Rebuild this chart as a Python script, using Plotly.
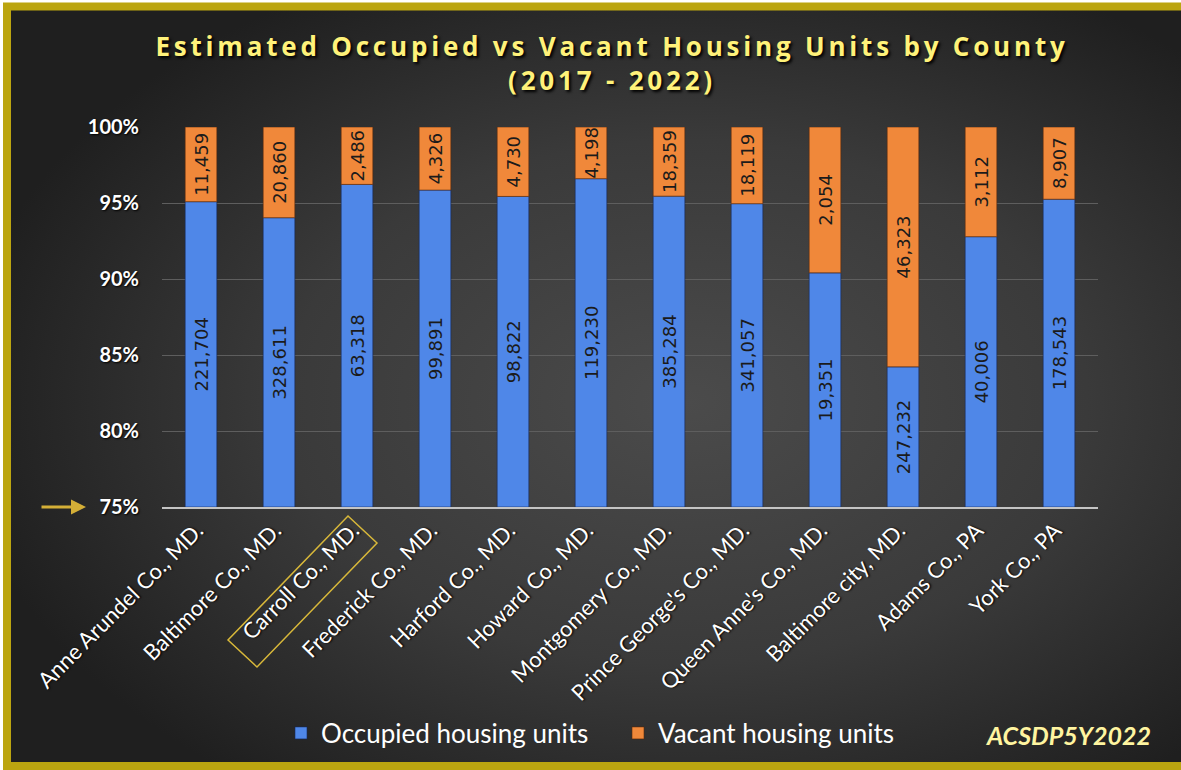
import base64
import plotly.graph_objects as go

# ---------------- data ----------------
counties = [
    "Anne Arundel Co., MD.", "Baltimore Co., MD.", "Carroll Co., MD.",
    "Frederick Co., MD.", "Harford Co., MD.", "Howard Co., MD.",
    "Montgomery Co., MD.", "Prince George's Co., MD.", "Queen Anne's Co., MD.",
    "Baltimore city, MD.", "Adams Co., PA", "York Co., PA",
]
occupied = [221704, 328611, 63318, 99891, 98822, 119230,
            385284, 341057, 19351, 247232, 40006, 178543]
vacant = [11459, 20860, 2486, 4326, 4730, 4198,
          18359, 18119, 2054, 46323, 3112, 8907]
y_ticks = [75, 80, 85, 90, 95, 100]
highlight = "Carroll Co., MD."
source_note = "ACSDP5Y2022"

# shares (percent of all housing units) derived from the counts
occ_pct = [100 * o / (o + v) for o, v in zip(occupied, vacant)]
vac_pct = [100 - p for p in occ_pct]
y_min = y_ticks[0]

# ---------------- geometry ----------------
W, H = 1181, 770
ML, MR, MT, MB = 162, 83, 127, 263
PW, PH = W - ML - MR, H - MT - MB


def px_x(px):
    return (px - ML) / PW


def px_y(py):
    return (H - MB - py) / PH


GOLD = "#BBA510"
TITLE_YELLOW = "#FFF27A"

# background radial gradient (svg data uri)
svg = (
    "<svg xmlns='http://www.w3.org/2000/svg' width='1181' height='770' "
    "viewBox='0 0 1181 770' preserveAspectRatio='none'>"
    "<defs><radialGradient id='g' cx='0.58' cy='0.52' r='0.62'>"
    "<stop offset='0' stop-color='#4b4b4b'/>"
    "<stop offset='0.55' stop-color='#3a3a3a'/>"
    "<stop offset='1' stop-color='#1f1f1f'/>"
    "</radialGradient></defs>"
    "<rect width='1181' height='770' fill='url(#g)'/></svg>"
)
bg_uri = "data:image/svg+xml;base64," + base64.b64encode(svg.encode()).decode()

label_font = dict(family="DejaVu Sans", size=18, color="#1b1b1b")

fig = go.Figure()
fig.add_trace(go.Bar(
    name="Occupied housing units", x=counties,
    y=[p - y_min for p in occ_pct], base=y_min,
    text=[f"{v:,}" for v in occupied], texttemplate="%{text}",
    textposition="inside", insidetextanchor="middle", textangle=-90,
    textfont=label_font,
    marker=dict(color="#4F87E8", line=dict(color="rgba(20,40,90,0.6)", width=1)),
    hoverinfo="skip",
))
fig.add_trace(go.Bar(
    name="Vacant housing units", x=counties,
    y=vac_pct, base=occ_pct,
    text=[f"{v:,}" for v in vacant], texttemplate="%{text}",
    textposition="inside", insidetextanchor="middle", textangle=-90,
    textfont=label_font,
    marker=dict(color="#F0883A", line=dict(color="rgba(90,40,10,0.6)", width=1)),
    hoverinfo="skip",
))

title_html = (
    "<span style='letter-spacing:3.8px'>Estimated Occupied vs Vacant Housing Units by County</span>"
    "<br><span style='letter-spacing:3.8px'>(2017 - 2022)</span>"
)

# highlight box around the Carroll tick label (offsets in pixels from category centre)
idx = counties.index(highlight)
cx = ML + (idx + 0.5) / len(counties) * PW
cy = H - MB
box = [(-9, 9), (20, 36), (-100, 160), (-129, 133)]
path = "M " + " L ".join(f"{px_x(cx + dx):.5f},{px_y(cy + dy):.5f}" for dx, dy in box) + " Z"

fig.update_layout(
    width=W, height=H,
    margin=dict(l=ML, r=MR, t=MT, b=MB, autoexpand=False),
    barmode="overlay", bargap=0.594,
    paper_bgcolor="white", plot_bgcolor="rgba(0,0,0,0)",
    title=dict(
        text=title_html, x=612 / W, xref="container", xanchor="center",
        y=1 - 56 / H, yref="container", yanchor="top",
        font=dict(family="Open Sans", size=26, color=TITLE_YELLOW, weight="bold",
                  shadow="2px 2px 3px #000"),
    ),
    xaxis=dict(
        tickangle=-45, showgrid=False, showline=True, linecolor="#c4c4c4", linewidth=2,
        tickfont=dict(family="Lato", size=22, color="white", shadow="1px 1px 2px #000"),
        ticks="", ticklabelshift=-4, automargin=False,
    ),
    yaxis=dict(
        range=[y_min, 100], tickvals=y_ticks, ticktext=[f"{v}%" for v in y_ticks],
        showgrid=True, gridcolor="#5e5e5e", gridwidth=1, zeroline=False,
        tickfont=dict(family="Lato", size=20, color="white", weight="bold",
                      shadow="1px 1px 2px #000"),
        ticklabelstandoff=22, fixedrange=True, automargin=False,
    ),
    legend=dict(
        orientation="h", traceorder="normal", x=px_x(281), xanchor="left",
        y=px_y(733), yanchor="middle", entrywidth=292, entrywidthmode="pixels",
        font=dict(family="Lato", size=26, color="white"), bgcolor="rgba(0,0,0,0)",
        itemclick=False, itemdoubleclick=False,
    ),
    uniformtext=dict(minsize=18, mode="show"),
    showlegend=True,
    images=[dict(
        source=bg_uri, xref="paper", yref="paper",
        x=px_x(3), y=px_y(3), sizex=(W - 3) / PW, sizey=(H - 3) / PH,
        xanchor="left", yanchor="top", sizing="stretch", layer="below",
    )],
    shapes=[
        dict(type="rect", xref="paper", yref="paper",
             x0=px_x(7), x1=px_x(W + 20), y0=px_y(766), y1=px_y(6.5),
             line=dict(color=GOLD, width=8), fillcolor="rgba(0,0,0,0)", layer="above"),
        dict(type="path", xref="paper", yref="paper", path=path,
             line=dict(color="#D8B83A", width=1.5), fillcolor="rgba(0,0,0,0)"),
    ],
    annotations=[
        dict(text=f"<i>{source_note}</i>", xref="paper", yref="paper",
             x=px_x(1068), y=px_y(735), xanchor="center", yanchor="middle", showarrow=False,
             font=dict(family="Lato", size=25, color="#FFF5A0", weight="bold")),
        dict(text="", xref="paper", yref="y", x=px_x(86), y=y_min,
             ax=-46, ay=0, showarrow=True, arrowhead=2, arrowsize=1, arrowwidth=3,
             arrowcolor="#D4AF37"),
    ],
)

fig.write_html(
    "out.html", config={"displayModeBar": False},
    post_script="document.body.style.margin='0';document.body.style.overflow='hidden';",
)
